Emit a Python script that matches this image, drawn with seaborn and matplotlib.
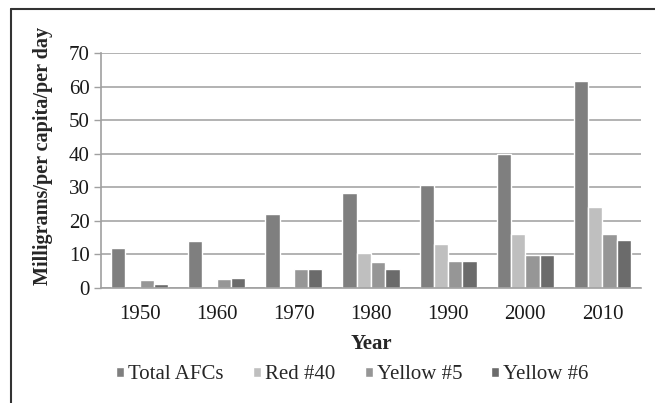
import pandas as pd
import numpy as np
import seaborn as sns
import matplotlib.pyplot as plt
from matplotlib.lines import Line2D
from matplotlib.ticker import FixedLocator

years = ["1950", "1960", "1970", "1980", "1990", "2000", "2010"]
total_afcs = [12, 14, 22, 28.2, 30.8, 39.8, 61.8]
red_40 = [0, 0, 0, 10.3, 13, 16.2, 24.2]
yellow_5 = [2.3, 2.7, 5.7, 7.6, 8, 9.8, 16.2]
yellow_6 = [1.1, 3.1, 5.7, 5.7, 8, 9.8, 14.4]
series = ["Total AFCs", "Red #40", "Yellow #5", "Yellow #6"]
colors = ["#7f7f7f", "#bfbfbf", "#969696", "#6b6b6b"]

df = pd.DataFrame({"Year": years, "Total AFCs": total_afcs, "Red #40": red_40,
                   "Yellow #5": yellow_5, "Yellow #6": yellow_6})
df = df.melt(id_vars="Year", var_name="series", value_name="mg")

sns.set_style("white")
plt.rcParams["font.family"] = ["Liberation Serif", "DejaVu Serif"]

fig = plt.figure(figsize=(6.55, 4.03), dpi=100)
ax = fig.add_axes([0.1542, 0.2854, 0.8244, 0.5831])

sns.barplot(data=df, x="Year", y="mg", hue="series", hue_order=series,
            palette=colors, width=0.74, saturation=1, ax=ax)

ax.set_ylim(0, 70)
ax.set_yticks(range(0, 71, 10))
ax.set_xlim(-0.5, 6.5)
ax.yaxis.grid(True, color="#a6a6a6", linewidth=1.2)
ax.set_axisbelow(True)
for s in ["top", "right"]:
    ax.spines[s].set_visible(False)
for s in ["left", "bottom"]:
    ax.spines[s].set_color("#a0a0a0")
    ax.spines[s].set_linewidth(1.2)

ax.xaxis.set_minor_locator(FixedLocator(np.arange(-0.5, 7, 1)))
ax.tick_params(axis="x", which="major", length=0, labelsize=15, pad=12, colors="#1a1a1a")
ax.tick_params(axis="x", which="minor", length=5, width=1, color="#a0a0a0", direction="out")
ax.tick_params(axis="y", length=5, width=1, color="#a0a0a0", labelsize=15, pad=3,
               left=True, labelcolor="#1a1a1a")

ax.set_xlabel("Year", fontsize=15, fontweight="bold", labelpad=7.5)
ax.set_ylabel("Milligrams/per capita/per day", fontsize=14.5, fontweight="bold")
ax.yaxis.set_label_coords(-0.089, 0.564)

ax.legend(loc="center", bbox_to_anchor=(0.466, -0.37), ncol=4, frameon=False,
          fontsize=15, handlelength=0.38, handleheight=0.38, handletextpad=0.2,
          columnspacing=1.4, borderaxespad=0, borderpad=0)

fig.add_artist(Line2D([11 / 655, 1], [1 - 9 / 403, 1 - 9 / 403], color="#333333", linewidth=1.5))
fig.add_artist(Line2D([11 / 655, 11 / 655], [0, 1 - 9 / 403], color="#333333", linewidth=1.5))

fig.savefig("out.png", dpi=100)
